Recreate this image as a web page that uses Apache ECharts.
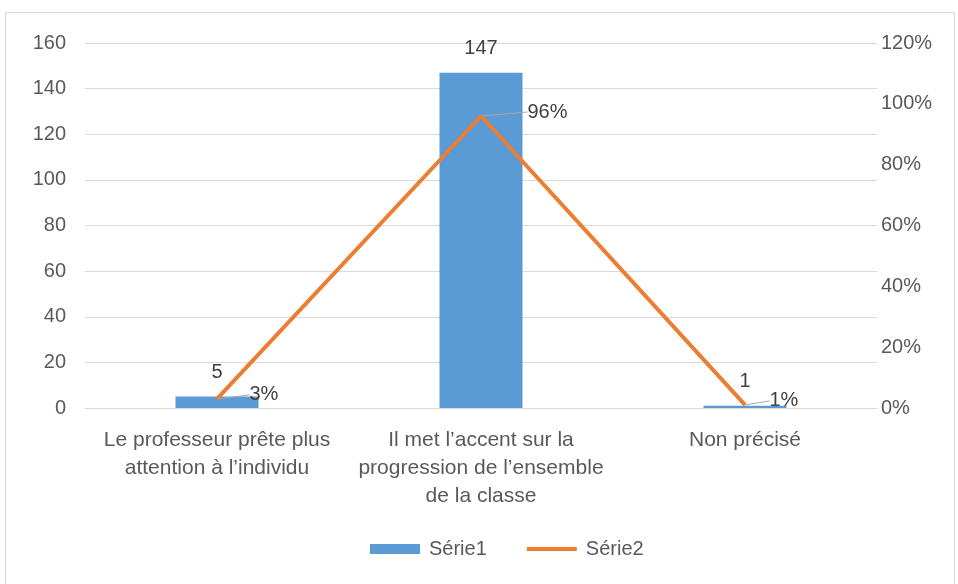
<!DOCTYPE html>
<html><head><meta charset="utf-8">
<script src="https://cdn.jsdelivr.net/npm/echarts@6/dist/echarts.min.js"></script>
<style>html,body{margin:0;padding:0;background:#fff}#c{width:958px;height:584px}</style>
</head><body><div id="c"></div>
<script>
const categories = ["Le professeur prête plus\nattention à l’individu", "Il met l’accent sur la\nprogression de l’ensemble\nde la classe", "Non précisé"];
const serie1 = [5, 147, 1];
const serie2 = [0.03, 0.96, 0.01];
const leftTicks = {min: 0, max: 160, interval: 20};
const rightTicks = {min: 0, max: 1.2, interval: 0.2};

const chart = echarts.init(document.getElementById('c'));
const font = '"Liberation Sans", Arial, sans-serif';
const labelShift = [28, 42, 20];
chart.setOption({
  animation: false,
  textStyle: {fontFamily: font},
  graphic: [{type: 'rect', shape: {x: 5.5, y: 12.5, width: 949, height: 580}, style: {fill: 'none', stroke: '#d9d9d9', lineWidth: 1}}],
  grid: {left: 85, right: 81, top: 43, bottom: 176},
  legend: {bottom: 20, left: 365, itemWidth: 50, itemHeight: 10, itemGap: 40,
    textStyle: {color: '#595959', fontSize: 20, fontFamily: font, padding: [0, 0, 0, 4]},
    data: [{name: 'Série1', icon: 'rect'}, {name: 'Série2', icon: 'path://M0,0L50,0L50,4L0,4Z'}]},
  xAxis: {type: 'category', data: categories,
    axisLine: {lineStyle: {color: '#d9d9d9'}}, axisTick: {show: false},
    axisLabel: {color: '#595959', fontSize: 21, lineHeight: 28, margin: 18, interval: 0}},
  yAxis: [
    {type: 'value', min: leftTicks.min, max: leftTicks.max, interval: leftTicks.interval,
      splitLine: {lineStyle: {color: '#d9d9d9'}}, axisLabel: {color: '#595959', fontSize: 20, margin: 19}},
    {type: 'value', min: rightTicks.min, max: rightTicks.max, interval: rightTicks.interval,
      splitLine: {show: false},
      axisLabel: {color: '#595959', fontSize: 20, margin: 4, formatter: v => Math.round(v * 100) + '%'}}
  ],
  series: [
    {name: 'Série1', type: 'bar', data: serie1, barWidth: 83, itemStyle: {color: '#5B9BD5'},
      label: {show: true, position: 'top', distance: 14, color: '#404040', fontSize: 20}},
    {name: 'Série2', type: 'line', yAxisIndex: 1, data: serie2, symbol: 'circle', symbolSize: 1, showSymbol: true,
      lineStyle: {color: '#ED7D31', width: 4}, itemStyle: {color: '#ED7D31'},
      label: {show: true, position: 'right', distance: 4, color: '#404040', fontSize: 20,
        formatter: p => Math.round(p.value * 100) + '%'},
      labelLayout: p => ({dx: labelShift[p.dataIndex], dy: -4}),
      labelLine: {show: true, lineStyle: {color: '#a6a6a6', width: 1}}}
  ]
});
</script></body></html>
